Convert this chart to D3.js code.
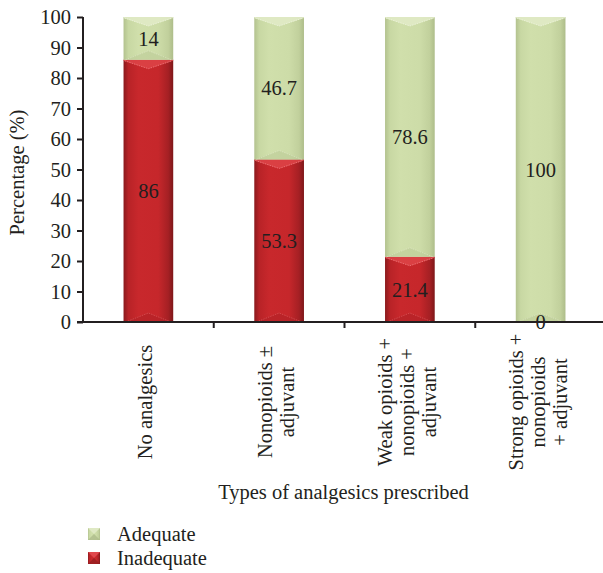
<!DOCTYPE html>
<html>
<head>
<meta charset="utf-8">
<script src="https://cdn.jsdelivr.net/npm/d3@7"></script>
<style>
  body { margin: 0; background: #fff; }
  text { font-family: 'Liberation Serif', 'DejaVu Serif', serif; fill: #231f20; }
</style>
</head>
<body>
<div id="app"></div>
<script>
'use strict'
const categories = [
  ['No analgesics'],
  ['Nonopioids \u00b1', 'adjuvant'],
  ['Weak opioids +', 'nonopioids +', 'adjuvant'],
  ['Strong opioids +', 'nonopioids', '+ adjuvant']
]
const inadequate = [86, 53.3, 21.4, 0]
const adequate = [14, 46.7, 78.6, 100]
const yTicks = [0, 10, 20, 30, 40, 50, 60, 70, 80, 90, 100]

const width = 603
const height = 573
const margin = { top: 17, right: -3, bottom: 251, left: 83 }
const innerW = width - margin.left - margin.right
const innerH = height - margin.top - margin.bottom
const fs = 20.5

const svg = d3.select('#app').append('svg')
  .attr('width', width)
  .attr('height', height)

const defs = svg.append('defs')

// horizontal gradients for the cylinder look
const grads = {
  red: ['#8a1a1d', '#b82327', '#c8282c', '#c6272b', '#a52024', '#7e1719'],
  green: ['#b3c28f', '#c8d8a3', '#d0dfab', '#cddca8', '#c1d09c', '#aebd8a']
}
Object.entries(grads).forEach(([k, cols]) => {
  const g = defs.append('linearGradient').attr('id', 'g-' + k)
    .attr('x1', 0).attr('x2', 1).attr('y1', 0).attr('y2', 0)
  const offs = [0, 0.1, 0.3, 0.7, 0.9, 1]
  cols.forEach((c, i) => g.append('stop').attr('offset', offs[i]).attr('stop-color', c))
})

const g = svg.append('g').attr('transform', `translate(${margin.left},${margin.top})`)

const x = d3.scaleBand()
  .domain(d3.range(categories.length))
  .range([0, innerW])
  .paddingInner(0.62)
  .paddingOuter(0.31)

const y = d3.scaleLinear().domain([0, 100]).range([innerH, 0])

const rows = categories.map((c, i) => ({ i, inadequate: inadequate[i], adequate: adequate[i] }))
const stack = d3.stack().keys(['inadequate', 'adequate'])(rows)

const styles = {
  inadequate: { grad: 'url(#g-red)', top: '#dd4448', line: '#f07a7c', bot: '#b12226' },
  adequate: { grad: 'url(#g-green)', top: '#e2ebc8', line: '#eef4dc', bot: '#bccb97' }
}

stack.forEach(layer => {
  const st = styles[layer.key]
  const segs = g.append('g').selectAll('g')
    .data(layer.filter(d => d[1] - d[0] > 0))
    .join('g')

  segs.append('rect')
    .attr('x', d => x(d.data.i))
    .attr('y', d => y(d[1]))
    .attr('width', x.bandwidth())
    .attr('height', d => y(d[0]) - y(d[1]))
    .attr('fill', st.grad)

  // top bevel (V shape)
  segs.append('path')
    .attr('d', d => {
      const x0 = x(d.data.i), x1 = x0 + x.bandwidth(), xc = (x0 + x1) / 2, yt = y(d[1])
      return `M${x0},${yt}L${x1},${yt}L${x1},${yt + 1}L${xc},${yt + 9}L${x0},${yt + 1}Z`
    })
    .attr('fill', st.top)
    .attr('opacity', 0.85)

  segs.append('path')
    .attr('d', d => {
      const x0 = x(d.data.i) + 1, x1 = x0 + x.bandwidth() - 2, xc = (x0 + x1) / 2, yt = y(d[1])
      return `M${x0},${yt + 1}L${xc},${yt + 9}L${x1},${yt + 1}`
    })
    .attr('fill', 'none')
    .attr('stroke', st.line)
    .attr('stroke-width', 0.8)
    .attr('stroke-dasharray', '1.5 1')

  // bottom bevel (^ shape)
  segs.append('path')
    .attr('d', d => {
      const x0 = x(d.data.i), x1 = x0 + x.bandwidth(), xc = (x0 + x1) / 2, yb = y(d[0])
      return `M${x0},${yb}L${xc},${yb - 9}L${x1},${yb}Z`
    })
    .attr('fill', st.bot)
    .attr('opacity', 0.6)

  segs.append('path')
    .attr('d', d => {
      const x0 = x(d.data.i) + 2, x1 = x0 + x.bandwidth() - 4, xc = (x0 + x1) / 2, yb = y(d[0])
      return `M${x0},${yb}L${xc},${yb - 9}L${x1},${yb}`
    })
    .attr('fill', 'none')
    .attr('stroke', st.line)
    .attr('stroke-width', 0.6)
    .attr('stroke-dasharray', '1.5 1')
    .attr('opacity', 0.7)
})

// value labels
stack.forEach(layer => {
  g.append('g').selectAll('text')
    .data(layer)
    .join('text')
    .attr('x', d => x(d.data.i) + x.bandwidth() / 2)
    .attr('y', d => (y(d[0]) + y(d[1])) / 2)
    .attr('dy', '0.35em')
    .attr('text-anchor', 'middle')
    .attr('font-size', fs)
    .text(d => d.data[layer.key])
})

// y axis
const yAxis = g.append('g')
  .call(d3.axisLeft(y).tickValues(yTicks).tickSize(6).tickPadding(6))
yAxis.select('.domain').attr('stroke', '#231f20').attr('stroke-width', 2)
  .attr('d', `M0,${innerH + 1}V0`)
yAxis.selectAll('.tick line').attr('stroke', '#231f20').attr('stroke-width', 2)
yAxis.selectAll('.tick text')
  .attr('font-size', fs)
  .attr('font-family', "'Liberation Serif', serif")
  .attr('fill', '#231f20')

// x axis
const xAxis = g.append('g').attr('transform', `translate(0,${innerH})`)
xAxis.append('line')
  .attr('x1', -6).attr('x2', innerW)
  .attr('stroke', '#231f20').attr('stroke-width', 2)
xAxis.selectAll('.xt')
  .data(d3.range(1, categories.length))
  .join('line')
  .attr('class', 'xt')
  .attr('x1', d => x(d) - x.step() * x.paddingInner() / 2)
  .attr('x2', d => x(d) - x.step() * x.paddingInner() / 2)
  .attr('y1', 0).attr('y2', 6)
  .attr('stroke', '#231f20').attr('stroke-width', 2)

const lineH = 22
xAxis.selectAll('.xl')
  .data(categories)
  .join('text')
  .attr('class', 'xl')
  .attr('font-size', fs)
  .attr('text-anchor', 'middle')
  .attr('transform', (d, i) => {
    const cx = x(i) + x.bandwidth() / 2
    return `translate(${cx + 4},${80}) rotate(-90)`
  })
  .each(function (lines) {
    const t = d3.select(this)
    const off = -(lines.length - 1) / 2 * lineH
    lines.forEach((l, k) => {
      t.append('tspan').attr('x', 0).attr('y', off + k * lineH).text(l)
    })
  })

// axis titles
svg.append('text')
  .attr('x', margin.left + innerW / 2 - 1)
  .attr('y', 499)
  .attr('text-anchor', 'middle')
  .attr('font-size', fs)
  .text('Types of analgesics prescribed')

svg.append('text')
  .attr('transform', `translate(24,${margin.top + innerH / 2 + 3}) rotate(-90)`)
  .attr('text-anchor', 'middle')
  .attr('font-size', fs)
  .text('Percentage (%)')

// legend
const legendItems = [
  { key: 'Adequate', grad: 'green', top: '#dfe9c4', side: '#a9b888' },
  { key: 'Inadequate', grad: 'red', top: '#e0474c', side: '#8e1c1f' }
]
const legend = svg.append('g').attr('transform', 'translate(88,528)')
legendItems.forEach((it, i) => {
  const lg = legend.append('g').attr('transform', `translate(0,${i * 24})`)
  const s = 12
  lg.append('rect').attr('width', s).attr('height', s).attr('fill', `url(#g-${it.grad})`)
  lg.append('path').attr('d', `M0,0L${s},0L${s / 2},${s / 2}Z`).attr('fill', it.top)
  lg.append('path').attr('d', `M0,${s}L${s},${s}L${s / 2},${s / 2}Z`).attr('fill', it.side).attr('opacity', 0.7)
  lg.append('text').attr('x', 29).attr('y', 13).attr('font-size', fs).text(it.key)
})
</script>
</body>
</html>
